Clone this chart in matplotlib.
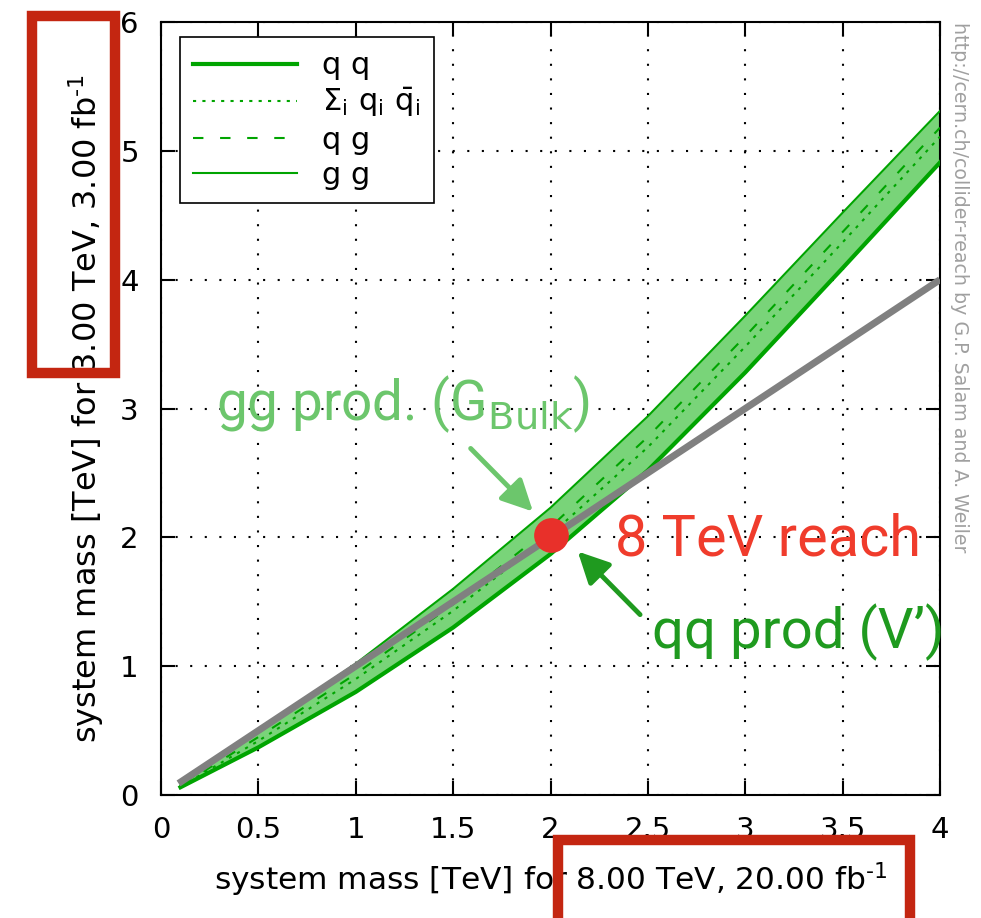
import matplotlib.pyplot as plt
from matplotlib.patches import Rectangle

# ================= data =================
mass_x = [0.1, 0.5, 1.0, 1.5, 2.0, 2.5, 3.0, 3.5, 4.0]
reach_qq = [0.06, 0.37, 0.80, 1.30, 1.87, 2.52, 3.28, 4.09, 4.91]
reach_qqbar = [0.065, 0.42, 0.90, 1.43, 2.02, 2.70, 3.48, 4.29, 5.11]
reach_qg = [0.07, 0.45, 0.94, 1.48, 2.08, 2.78, 3.56, 4.37, 5.18]
reach_gg = [0.075, 0.50, 1.02, 1.60, 2.23, 2.94, 3.72, 4.52, 5.31]

diag_x = [0.09, 4.0]
diag_y = [0.09, 4.0]

point_x = [2.0]
point_y = [2.02]

x_ticks = [0, 0.5, 1, 1.5, 2, 2.5, 3, 3.5, 4]
x_tick_labels = ['0', '0.5', '1', '1.5', '2', '2.5', '3', '3.5', '4']
y_ticks = [0, 1, 2, 3, 4, 5, 6]

# ================= style =================
plt.rcParams.update({
    'font.family': ['DejaVu Sans'],
    'font.size': 21,
    'mathtext.fontset': 'dejavusans',
})

GREEN = '#00a400'
FILL = '#79d479'

fig = plt.figure(figsize=(9.81, 9.18), dpi=100)
ax = fig.add_axes([161 / 981, 1 - 795 / 918, 779 / 981, 773 / 918])

ax.fill_between(mass_x, reach_qq, reach_gg, color=FILL, lw=0, zorder=2)
ax.plot(mass_x, reach_qq, '-', color=GREEN, lw=3, label='q q', zorder=3)
ax.plot(mass_x, reach_qqbar, color=GREEN, lw=1.5, ls=(0, (1.5, 3)),
        label=r'$\mathrm{\Sigma_i\ q_i\ \bar{q}_i}$', zorder=3)
ax.plot(mass_x, reach_qg, color=GREEN, lw=1.5, ls=(0, (5, 8)), label='q g', zorder=3)
ax.plot(mass_x, reach_gg, '-', color=GREEN, lw=1.5, label='g g', zorder=3)
ax.plot(diag_x, diag_y, '-', color='#808080', lw=5, solid_capstyle='butt', zorder=4)
ax.plot(point_x, point_y, 'o', color='#e8302a', ms=25, mec='none', zorder=6)

ax.set_xlim(0, 4)
ax.set_ylim(0, 6)
ax.set_xticks(x_ticks)
ax.set_xticklabels(x_tick_labels)
ax.set_yticks(y_ticks)
ax.tick_params(direction='in', length=10, width=1.5, top=True, right=True, labelsize=21)
ax.tick_params(axis='x', pad=15)
ax.tick_params(axis='y', pad=16)
ax.grid(True, color='black', lw=1.5, ls=(0, (1, 6)))
for sp in ax.spines.values():
    sp.set_linewidth(1.5)

ax.set_xlabel(r'system mass [TeV] for 8.00 TeV, 20.00 fb$^{\text{-1}}$',
              fontsize=22.5, labelpad=12)
ax.set_ylabel(r'system mass [TeV] for 3.00 TeV, 3.00 fb$^{\text{-1}}$',
              fontsize=23, labelpad=10)

leg = ax.legend(loc='upper left', bbox_to_anchor=(0.024, 0.98), fancybox=False,
                framealpha=1, edgecolor='black', handlelength=3.4, labelspacing=0.2,
                borderaxespad=0, handletextpad=0.8, borderpad=0.45, fontsize=22)
leg.get_frame().set_linewidth(1.2)
leg.set_zorder(10)

# annotations
ann_font = ['Roboto', 'DejaVu Sans']
ax.text(0.28, 2.91, r'gg prod. (G$_{\mathrm{Bulk}}$)', color='#6cc66c', fontsize=39.5,
        family=ann_font, ha='left', va='baseline', zorder=7)
ax.annotate('', xy=(1.91, 2.20), xytext=(1.59, 2.69),
            arrowprops=dict(arrowstyle='-|>,head_length=0.9,head_width=0.45',
                            color='#6cc66c', lw=3.5, shrinkA=0, shrinkB=0), zorder=7)
ax.text(2.33, 1.86, '8 TeV reach', color='#f03c2c', fontsize=41.5,
        family=ann_font, ha='left', va='baseline', zorder=7)
ax.text(2.52, 1.14, "qq prod (V’)", color='#1f9a1f', fontsize=40.5,
        family=ann_font, ha='left', va='baseline', zorder=7)
ax.annotate('', xy=(2.14, 1.89), xytext=(2.46, 1.40),
            arrowprops=dict(arrowstyle='-|>,head_length=0.9,head_width=0.45',
                            color='#1f9a1f', lw=3.5, shrinkA=0, shrinkB=0), zorder=7)

fig.text(960 / 981, 1 - 22 / 918, 'http://cern.ch/collider-reach by G.P. Salam and A. Weiler',
         rotation=270, color='#a0a0a0', fontsize=13.7, ha='center', va='top')

# highlight boxes
red = '#c42611'
fig.patches.append(Rectangle((32 / 981, 1 - 373 / 918), 83 / 981, 357 / 918, fill=False,
                             ec=red, lw=7.5, transform=fig.transFigure, figure=fig, zorder=20))
fig.patches.append(Rectangle((558 / 981, 1 - 930 / 918), 352 / 981, 90 / 918, fill=False,
                             ec=red, lw=7.5, transform=fig.transFigure, figure=fig, zorder=20))

fig.savefig('out.png', dpi=100)
